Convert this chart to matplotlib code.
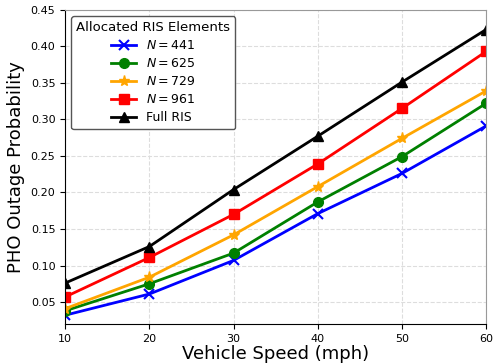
import matplotlib
matplotlib.use('Agg')
from matplotlib import pyplot as plt

speeds = [10, 20, 30, 40, 50, 60]
n441 = [0.032, 0.061, 0.107, 0.171, 0.226, 0.291]
n625 = [0.038, 0.075, 0.117, 0.187, 0.249, 0.322]
n729 = [0.041, 0.084, 0.142, 0.208, 0.274, 0.339]
n961 = [0.057, 0.111, 0.170, 0.239, 0.315, 0.393]
full_ris = [0.076, 0.126, 0.204, 0.277, 0.351, 0.423]

fig = plt.figure(figsize=(4.94, 3.64), dpi=100)
ax = fig.add_axes([0.132, 0.110, 0.852, 0.863])

ax.plot(speeds, n441, c='blue', marker='x', lw=2, ms=7, mew=1.5, label=r'$N = 441$')
ax.plot(speeds, n625, c='green', marker='o', lw=2, ms=7, label=r'$N = 625$')
ax.plot(speeds, n729, c='orange', marker='*', lw=2, ms=8, label=r'$N = 729$')
ax.plot(speeds, n961, c='red', marker='s', lw=2, ms=7, label=r'$N = 961$')
ax.plot(speeds, full_ris, c='black', marker='^', lw=2, ms=7, label='Full RIS')

ax.set_xlim(10, 60)
ax.set_ylim(0.02, 0.45)
ax.set_xticks(speeds)
ax.set_yticks([0.05, 0.10, 0.15, 0.20, 0.25, 0.30, 0.35, 0.40, 0.45])
ax.grid(True, ls='--', color='#dddddd', lw=0.8)
ax.set_xlabel('Vehicle Speed (mph)', fontsize=13, labelpad=1)
ax.set_ylabel('PHO Outage Probability', fontsize=13, labelpad=4)
ax.tick_params(axis='both', labelsize=8)
for side in ['top', 'right']:
    ax.spines[side].set_color('#999999')

leg = ax.legend(title='Allocated RIS Elements', loc='upper left', fontsize=9,
                title_fontsize=9.5, edgecolor='#555555', framealpha=1,
                labelspacing=0.4)

fig.savefig('out.png', dpi=100)
